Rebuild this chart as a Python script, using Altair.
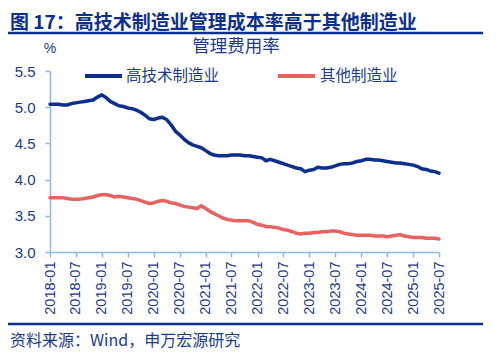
import altair as alt
import pandas as pd

months = pd.date_range("2018-01-01", "2025-07-01", freq="MS").strftime("%Y-%m-%d").tolist()

high_tech = [5.04, 5.04, 5.04, 5.03, 5.03, 5.05, 5.06, 5.07, 5.08, 5.09,
             5.10, 5.14, 5.17, 5.13, 5.08, 5.05, 5.02, 5.01, 4.99, 4.98,
             4.96, 4.93, 4.89, 4.84, 4.83, 4.85, 4.86, 4.83, 4.76, 4.67,
             4.62, 4.56, 4.51, 4.48, 4.46, 4.44, 4.40, 4.36, 4.34, 4.33,
             4.33, 4.33, 4.34, 4.34, 4.34, 4.33, 4.33, 4.32, 4.31, 4.30,
             4.26, 4.28, 4.26, 4.24, 4.22, 4.20, 4.18, 4.16, 4.15, 4.11,
             4.13, 4.14, 4.17, 4.16, 4.16, 4.17, 4.19, 4.21, 4.22, 4.22,
             4.23, 4.25, 4.26, 4.28, 4.28, 4.27, 4.27, 4.26, 4.25, 4.24,
             4.23, 4.23, 4.22, 4.21, 4.20, 4.18, 4.15, 4.14, 4.12, 4.11,
             4.09]

other = [3.75, 3.75, 3.75, 3.75, 3.74, 3.73, 3.73, 3.73, 3.74, 3.75,
         3.76, 3.78, 3.79, 3.79, 3.78, 3.76, 3.77, 3.76, 3.75, 3.74,
         3.73, 3.71, 3.69, 3.67, 3.68, 3.70, 3.71, 3.70, 3.68, 3.67,
         3.65, 3.63, 3.62, 3.61, 3.60, 3.64, 3.60, 3.56, 3.53, 3.50,
         3.47, 3.45, 3.44, 3.43, 3.43, 3.43, 3.43, 3.41, 3.38, 3.37,
         3.35, 3.35, 3.34, 3.33, 3.31, 3.30, 3.28, 3.26, 3.25, 3.26,
         3.26, 3.27, 3.27, 3.28, 3.28, 3.29, 3.29, 3.28, 3.26, 3.25,
         3.24, 3.23, 3.23, 3.23, 3.23, 3.22, 3.22, 3.22, 3.21, 3.22,
         3.23, 3.24, 3.22, 3.21, 3.20, 3.20, 3.20, 3.19, 3.19, 3.19,
         3.18]

series_names = ["高技术制造业", "其他制造业"]
series_colors = ["#0B2F8E", "#E8625F"]
y_ticks = [3.0, 3.5, 4.0, 4.5, 5.0, 5.5]
x_tick_years_months = [(y, m) for y in range(2018, 2026) for m in (1, 7)]

title_text = "图 17：高技术制造业管理成本率高于其他制造业"
chart_title = "管理费用率"
unit_text = "%"
source_text = "资料来源：Wind，申万宏源研究"

TXT = "#1B3C8C"
AX = "#8DB9E4"
FONT = "Liberation Sans"
CJK = "Noto Sans CJK SC"

df = pd.DataFrame({
    "date": months * 2,
    "value": high_tech + other,
    "series": [series_names[0]] * len(months) + [series_names[1]] * len(months),
})

W, H = 389, 181

x_enc = alt.X(
    "date:T",
    scale=alt.Scale(domain=[alt.DateTime(year=2018, month=1, date=1),
                            alt.DateTime(year=2025, month=7, date=1)]),
    axis=alt.Axis(
        values=[alt.DateTime(year=y, month=m, date=1) for y, m in x_tick_years_months],
        format="%Y-%m", labelAngle=270, title=None, grid=False,
        domainColor=AX, tickColor=AX, tickSize=5, domainWidth=1.5, tickWidth=1.5,
        labelColor=TXT, labelFont=FONT, labelFontSize=14.5, labelPadding=4,
    ),
)
y_enc = alt.Y(
    "value:Q",
    scale=alt.Scale(domain=[3.0, 5.5], nice=False, zero=False),
    axis=alt.Axis(
        values=y_ticks, format=".1f", title=None, grid=False,
        domainColor=AX, tickColor=AX, tickSize=5, domainWidth=1.5, tickWidth=1.5,
        labelColor=TXT, labelFont=FONT, labelFontSize=15, labelPadding=10,
    ),
)

lines = alt.Chart(df).mark_line(strokeWidth=3.5, strokeCap="round", strokeJoin="round").encode(
    x=x_enc, y=y_enc,
    color=alt.Color("series:N", scale=alt.Scale(domain=series_names, range=series_colors), legend=None),
)

def text(t, x, y, size, color=TXT, weight="normal", align="left", font=CJK):
    return alt.Chart(alt.Data(values=[{"t": t}])).mark_text(
        align=align, baseline="middle", fontSize=size, font=font, color=color, fontWeight=weight
    ).encode(text="t:N", x=alt.value(x), y=alt.value(y))

def rule(x1, x2, y, color, width):
    return alt.Chart(alt.Data(values=[{}])).mark_rule(color=color, strokeWidth=width).encode(
        x=alt.value(x1), x2=alt.value(x2), y=alt.value(y))

layers = [
    lines,
    text(title_text, -40, -48, 19, color="#0B2F8E", weight="bold"),
    rule(-42, 433, -38, "#0B2F8E", 2.5),
    text(chart_title, 186, -24, 17.5, align="center"),
    text(unit_text, 0, -22, 14, align="center", font=FONT),
    rule(35, 72, 5, series_colors[0], 4),
    text(series_names[0], 76, 5, 15.5),
    rule(228, 265, 5, series_colors[1], 4),
    text(series_names[1], 270, 5, 15.5),
    rule(-42, 433, 253, "#0B2F8E", 2.5),
    text(source_text, -40, 270, 16),
]

chart = alt.layer(*layers).properties(
    width=W, height=H,
    autosize=alt.AutoSizeParams(type="none"),
    padding={"left": 42, "top": 63, "right": 53, "bottom": 100},
    background="white",
).configure_view(stroke=None)

chart.save("out.html", embed_options={"renderer": "svg", "actions": False})
